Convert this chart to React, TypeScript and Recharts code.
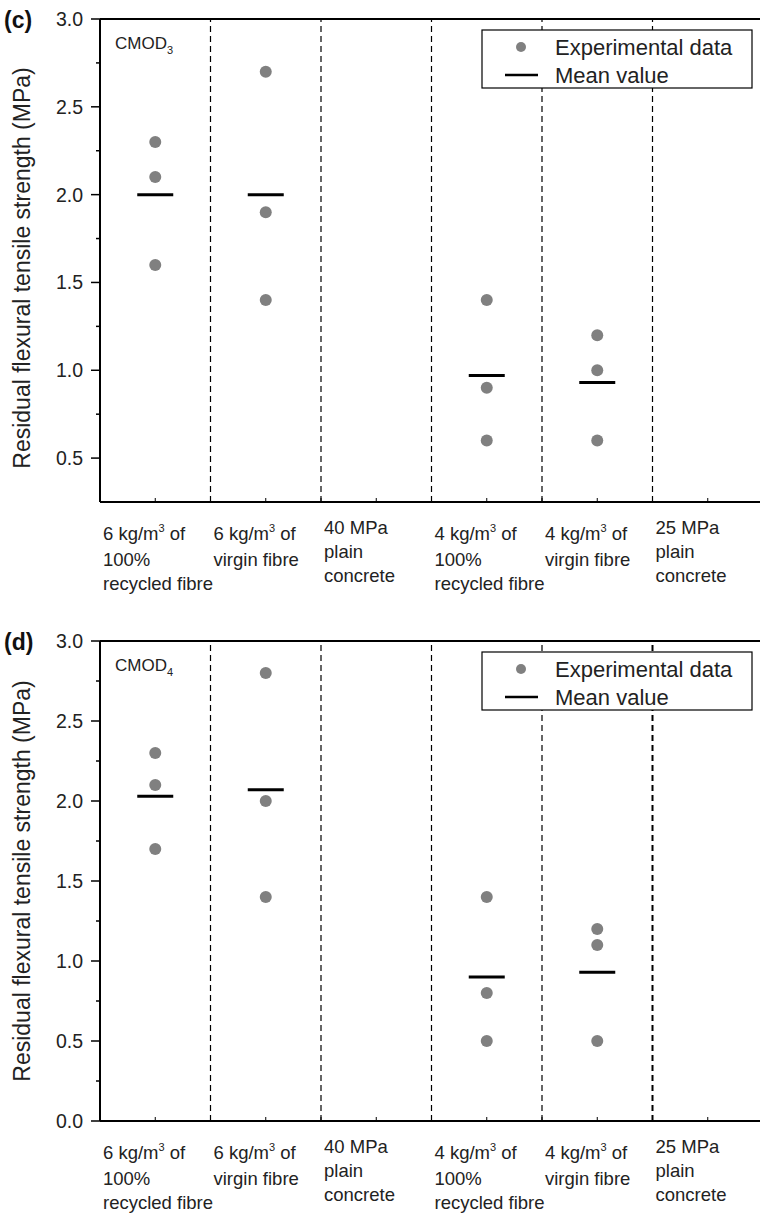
import React from 'react';
import {
  ScatterChart,
  Scatter,
  XAxis,
  YAxis,
  ReferenceLine,
} from 'recharts';

// category labels, "^3" marks the superscript
const categoryLabels = [
  ['6 kg/m^3 of', '100%', 'recycled fibre'],
  ['6 kg/m^3 of', 'virgin fibre'],
  ['40 MPa', 'plain', 'concrete'],
  ['4 kg/m^3 of', '100%', 'recycled fibre'],
  ['4 kg/m^3 of', 'virgin fibre'],
  ['25 MPa', 'plain', 'concrete'],
];

const cmod3Points = [[2.3, 2.1, 1.6], [2.7, 1.9, 1.4], [], [1.4, 0.9, 0.6], [1.2, 1.0, 0.6], []];
const cmod3Means = [2.0, 2.0, null, 0.97, 0.93, null];

const cmod4Points = [[2.3, 2.1, 1.7], [2.8, 2.0, 1.4], [], [1.4, 0.8, 0.5], [1.2, 1.1, 0.5], []];
const cmod4Means = [2.03, 2.07, null, 0.9, 0.93, null];

const yTicksC = [0.5, 0.75, 1.0, 1.25, 1.5, 1.75, 2.0, 2.25, 2.5, 2.75, 3.0];
const yTicksD = [0, 0.25, 0.5, 0.75, 1.0, 1.25, 1.5, 1.75, 2.0, 2.25, 2.5, 2.75, 3.0];
const xTicks = [0, 0.5, 1, 1.5, 2, 2.5, 3, 3.5, 4, 4.5, 5, 5.5, 6];
const separators = [1, 2, 3, 4, 5];

const FONT = '"Liberation Sans", Arial, Helvetica, sans-serif';
const CAT_W = 110.5;

function toPoints(points: number[][]) {
  const out: { x: number; y: number }[] = [];
  points.forEach((vals, i) => vals.forEach((v) => out.push({ x: i + 0.5, y: v })));
  return out;
}

function toMeans(means: (number | null)[]) {
  return means
    .map((m, i) => (m == null ? null : { x: i + 0.5, y: m }))
    .filter(Boolean) as { x: number; y: number }[];
}

function renderLine(line: string) {
  const idx = line.indexOf('^');
  if (idx < 0) return line;
  return (
    <>
      <tspan>{line.slice(0, idx)}</tspan>
      <tspan dy={-8} fontSize={11}>{line[idx + 1]}</tspan>
      <tspan dy={8}>{line.slice(idx + 2)}</tspan>
    </>
  );
}

const XTick = (props: any) => {
  const { x, y, payload } = props;
  const v = payload.value;
  const isCenter = Math.abs(v % 1 - 0.5) < 1e-6;
  const lines = isCenter ? categoryLabels[Math.floor(v)] : null;
  const hasSup = lines ? lines.some((l) => l.includes('^')) : false;
  const base = hasSup ? 38 : 32;
  return (
    <g>
      <line x1={x} x2={x} y1={y} y2={y - 4} stroke="#000" strokeWidth={1} />
      {lines &&
        lines.map((l, i) => (
          <text
            key={i}
            x={x - CAT_W / 2 + 3}
            y={y + base + i * 24 + (hasSup && i > 0 ? 2 : 0)}
            fontSize={18.5}
            fontFamily={FONT}
            fill="#222"
          >
            {renderLine(l)}
          </text>
        ))}
    </g>
  );
};

const YTick = (props: any) => {
  const { x, y, payload } = props;
  const v = payload.value;
  const major = Math.abs(v * 2 - Math.round(v * 2)) < 1e-6;
  return (
    <g>
      <line x1={x - (major ? 9 : 4)} x2={x} y1={y} y2={y} stroke="#000" strokeWidth={1.5} />
      {major && (
        <text x={x - 17} y={y} dy={7} textAnchor="end" fontSize={19.5} fontFamily={FONT} fill="#222">
          {v.toFixed(1)}
        </text>
      )}
    </g>
  );
};

const Dot = (props: any) => <circle cx={props.cx} cy={props.cy} r={6} fill="#808080" />;
const MeanBar = (props: any) => (
  <line x1={props.cx - 18} x2={props.cx + 18} y1={props.cy} y2={props.cy} stroke="#000" strokeWidth={3} />
);

interface PanelProps {
  top: number;
  height: number;
  marginTop: number;
  xAxisHeight: number;
  domain: [number, number];
  yTicks: number[];
  points: number[][];
  means: (number | null)[];
  letter: string;
  sub: string;
  titleY: number;
  heavyLast?: boolean;
}

function Panel({ top, height, marginTop, xAxisHeight, domain, yTicks, points, means, letter, sub, titleY, heavyLast }: PanelProps) {
  const plotTop = marginTop;
  return (
    <div style={{ position: 'absolute', left: 0, top, width: 760, height, overflow: 'hidden' }}>
      <ScatterChart width={770} height={height} margin={{ top: marginTop, right: 7, bottom: 0, left: 0 }}>
        <XAxis
          type="number"
          dataKey="x"
          domain={[0, 6]}
          ticks={xTicks}
          interval={0}
          tickSize={0}
          tickMargin={0}
          tickLine={false}
          tick={<XTick />}
          height={xAxisHeight}
          axisLine={{ stroke: '#000', strokeWidth: 2 }}
          allowDataOverflow
        />
        <YAxis
          type="number"
          dataKey="y"
          domain={domain}
          ticks={yTicks}
          interval={0}
          tickSize={0}
          tickMargin={0}
          tickLine={false}
          tick={<YTick />}
          width={100}
          axisLine={{ stroke: '#000', strokeWidth: 2 }}
          allowDataOverflow
        />
        {separators.map((s) => (
          <ReferenceLine
            key={s}
            x={s}
            stroke="#000"
            strokeWidth={heavyLast && s === 5 ? 2 : 1.2}
            strokeDasharray="6 4"
          />
        ))}
        <ReferenceLine y={domain[1]} stroke="#000" strokeWidth={2} />
        <Scatter data={toPoints(points)} shape={<Dot />} isAnimationActive={false} />
        <Scatter data={toMeans(means)} shape={<MeanBar />} isAnimationActive={false} />
      </ScatterChart>
      <svg
        width={760}
        height={height}
        style={{ position: 'absolute', left: 0, top: 0, pointerEvents: 'none' }}
        fontFamily={FONT}
      >
        <text x={4} y={plotTop + 9} fontSize={23} fontWeight="bold" fill="#111">
          {letter}
        </text>
        <text
          transform={`translate(30, ${titleY}) rotate(-90)`}
          textAnchor="middle"
          fontSize={23}
          fill="#222"
        >
          Residual flexural tensile strength (MPa)
        </text>
        <text x={115} y={plotTop + 30} fontSize={17} fill="#222">
          CMOD
          <tspan dy={5} fontSize={11}>{sub}</tspan>
        </text>
        <g transform={`translate(482, ${plotTop + 11})`}>
          <rect x={0} y={0} width={270} height={58} fill="#fff" stroke="#000" strokeWidth={1.2} />
          <circle cx={39} cy={17} r={5} fill="#808080" />
          <text x={73} y={25} fontSize={22} fill="#222">Experimental data</text>
          <line x1={23} x2={56} y1={45} y2={45} stroke="#000" strokeWidth={2.5} />
          <text x={73} y={53} fontSize={22} fill="#222">Mean value</text>
        </g>
      </svg>
    </div>
  );
}

export default function App() {
  return (
    <div style={{ position: 'absolute', left: 0, top: 0, width: 760, height: 1217, background: '#fff' }}>
      <Panel
        top={0}
        height={620}
        marginTop={19}
        xAxisHeight={118}
        domain={[0.25, 3]}
        yTicks={yTicksC}
        points={cmod3Points}
        means={cmod3Means}
        letter="(c)"
        sub="3"
        titleY={268}
      />
      <Panel
        top={620}
        height={597}
        marginTop={21}
        xAxisHeight={96}
        domain={[0, 3]}
        yTicks={yTicksD}
        points={cmod4Points}
        means={cmod4Means}
        letter="(d)"
        sub="4"
        titleY={261}
        heavyLast
      />
    </div>
  );
}
